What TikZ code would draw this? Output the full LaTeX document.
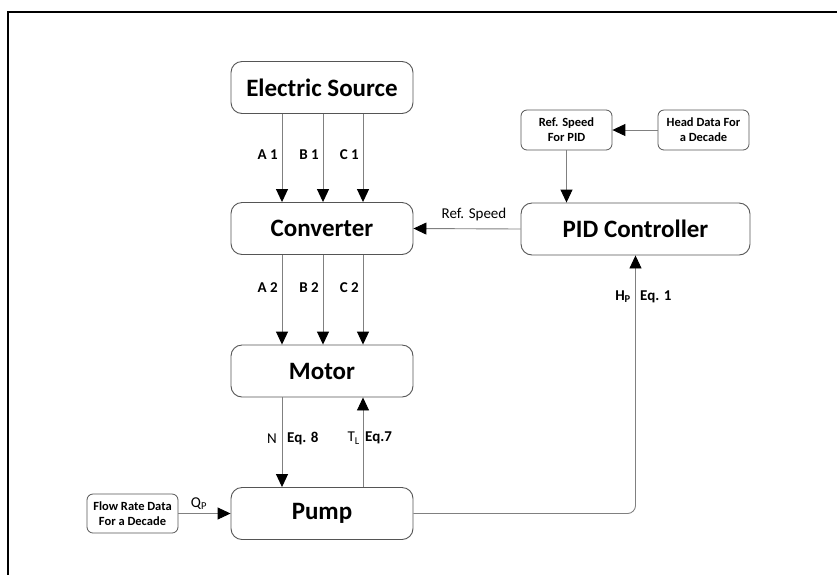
\documentclass[tikz,border=0pt]{standalone}
\usepackage{fontspec}
\setmainfont{Carlito}
\usetikzlibrary{arrows.meta}
\definecolor{boxline}{HTML}{555555}
\definecolor{conline}{HTML}{808080}
\tikzset{
  bigbox/.style={draw=boxline, line width=0.9pt, rounded corners=11pt, minimum width=182pt, minimum height=52pt, font=\bfseries\fontsize{25}{28}\selectfont, inner sep=0pt},
  smallbox/.style={draw=boxline, line width=0.8pt, rounded corners=6pt, minimum width=91pt, minimum height=40pt, font=\bfseries\fontsize{12.5}{15}\selectfont, align=center, inner sep=0pt},
  arr/.style={draw=conline, line width=0.9pt, -{Triangle[length=13pt,width=12pt,black]}},
  lbl/.style={font=\bfseries\fontsize{15}{17}\selectfont, inner sep=0pt},
  lblr/.style={font=\fontsize{15}{17}\selectfont, inner sep=0pt}
}
\begin{document}
\begin{tikzpicture}[x=1pt,y=-1pt]
\useasboundingbox (0,0) rectangle (837,574);
\fill[white] (0,0) rectangle (837,574);
\draw[line width=1.6pt] (8,575) -- (8,12) -- (838,12);

\node[bigbox] (es) at (322,87.5) {Electric Source};
\node[bigbox] (conv) at (322,228.5) {Converter};
\node[bigbox] (motor) at (322,371) {Motor};
\node[bigbox] (pump) at (322,513.5) {Pump};
\node[bigbox, minimum width=229pt] (pid) at (635.5,229) {PID Controller};
\node[smallbox] (ref) at (566.5,130) {Ref. Speed\\For PID};
\node[smallbox] (head) at (703.5,130) {Head Data For\\a Decade};
\node[smallbox, minimum height=39pt] (flow) at (132.5,513.5) {Flow Rate Data\\For a Decade};

% Electric source -> converter
\foreach \dx/\t/\n in {-40/A 1/a, 1/B 1/b, 41/C 1/c}{
  \draw[arr] ([xshift=\dx pt]es.south) -- ([xshift=\dx pt]es.south |- conv.north) coordinate[pos=0.5] (m1\n);
  \node[lbl, anchor=east] (l1\n) at ([xshift=-4pt,yshift=3pt]m1\n) {\t};
}
% Converter -> motor
\foreach \dx/\t/\n in {-40/A 2/a, 1/B 2/b, 41/C 2/c}{
  \draw[arr] ([xshift=\dx pt]conv.south) -- ([xshift=\dx pt]conv.south |- motor.north) coordinate[pos=0.5] (m2\n);
  \node[lbl, anchor=east] (l2\n) at ([xshift=-4pt,yshift=12pt]m2\n) {\t};
}
% Motor <-> pump
\draw[arr] ([xshift=-40pt]motor.south) -- ([xshift=-40pt]motor.south |- pump.north) coordinate[pos=0.5] (mn);
\node[lblr, anchor=east] (ln) at ([xshift=-5pt,yshift=4pt]mn) {N};
\node[lbl, anchor=west] (le8) at ([xshift=5pt,yshift=4pt]mn) {Eq. 8};
\draw[arr] ([xshift=41pt]pump.north) -- ([xshift=41pt]pump.north |- motor.south) coordinate[pos=0.5] (mt);
\node[lblr, anchor=east] (lt) at ([xshift=-3pt,yshift=4pt]mt) {T\textsubscript{L}};
\node[lbl, anchor=west] (le7) at ([xshift=2pt,yshift=4pt]mt) {Eq.7};

% Flow -> pump
\draw[arr] (flow.east) -- (pump.west);
\node[lblr, anchor=south] (lq) at (199,510) {Q\textsubscript{P}};

% Pump -> PID
\draw[arr, rounded corners=8pt] (pump.east) -| (pid.south);
\node[lbl, anchor=east] (lh) at (631,297) {H\textsubscript{P}};
\node[lbl, anchor=west] (le1) at (640,297) {Eq. 1};

% PID side
\draw[arr] (head.west) -- (ref.east);
\draw[arr] (ref.south) -- (ref.south |- pid.north);
\draw[arr] (pid.west) -- (conv.east);
\node[lblr, anchor=south] (lrs) at (474,221) {Ref. Speed};
\end{tikzpicture}
\end{document}
